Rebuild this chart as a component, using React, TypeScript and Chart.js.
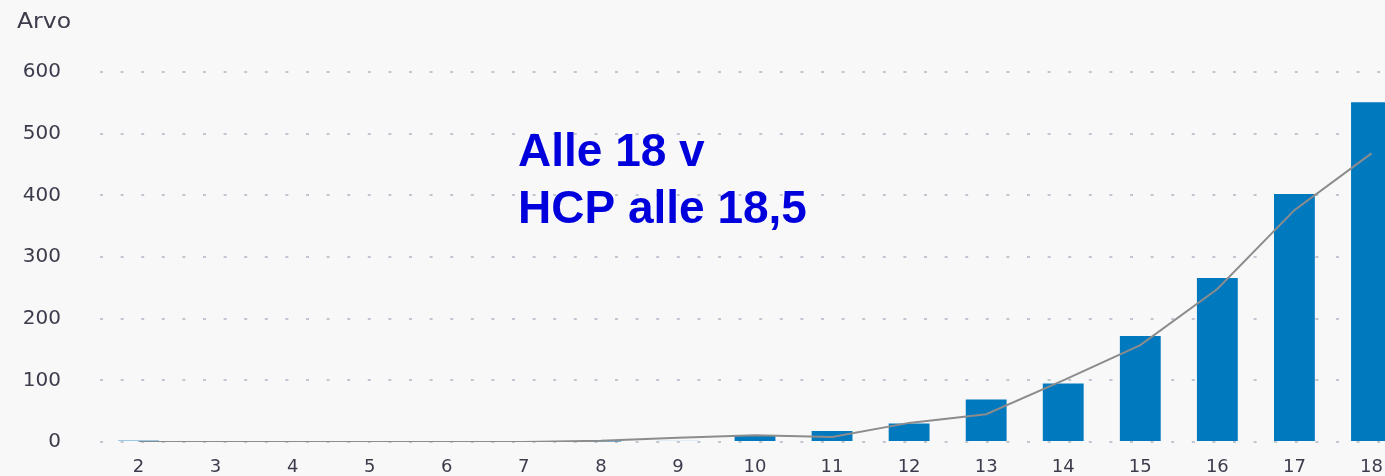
import React, { useEffect, useRef } from "react";
import { Chart, registerables } from "chart.js";

Chart.register(...registerables);

const categories = ["2", "3", "4", "5", "6", "7", "8", "9", "10", "11", "12", "13", "14", "15", "16", "17", "18"];
const barValues = [3, 0, 0, 0, 0, 0, 1, 3, 10, 18, 30, 69, 95, 172, 266, 402, 551];
const lineValues = [0, 0, 0, 0, 0, 0, 2, 7, 11, 8, 31, 45, 100, 157, 248, 376, 468];
const yTicks = [0, 100, 200, 300, 400, 500, 600];
const yTitle = "Arvo";
const noteLines = ["Alle 18 v", "HCP alle 18,5"];

const BAR = "#0079bf";
const barColors = categories.map((_, i) => (i === 0 ? "#7fb9e0" : i === 7 ? "#dbe9f4" : BAR));
const TXT = "#3c3c4c";

export default function App() {
  const ref = useRef<HTMLCanvasElement | null>(null);

  useEffect(() => {
    document.body.style.margin = "0";
    document.body.style.overflow = "hidden";
    const ctx = ref.current!.getContext("2d")!;
    const chart = new Chart(ctx, {
      type: "bar",
      data: {
        labels: categories,
        datasets: [
          {
            type: "line",
            data: lineValues,
            borderColor: "#8c8c8c",
            borderWidth: 2,
            pointRadius: 0,
            tension: 0,
            fill: false,
            order: 0,
          } as any,
          {
            type: "bar",
            data: barValues,
            backgroundColor: barColors,
            categoryPercentage: 1,
            barPercentage: 0.53,
            order: 1,
          },
        ],
      },
      options: {
        responsive: false,
        animation: false,
        devicePixelRatio: 1,
        layout: { padding: { top: 72, left: 0, right: 0, bottom: 0 } },
        plugins: { legend: { display: false }, tooltip: { enabled: false } },
        scales: {
          x: {
            grid: { display: false, drawTicks: false },
            border: { display: false },
            ticks: {
              color: TXT,
              font: { family: "DejaVu Sans", size: 18 },
              padding: 15,
              maxRotation: 0,
              autoSkip: false,
            },
            afterFit: (s: any) => {
              s.height = 34;
            },
          },
          y: {
            min: 0,
            max: 600,
            afterBuildTicks: (s: any) => {
              s.ticks = yTicks.map((v) => ({ value: v }));
            },
            grid: {
              color: "#c1c6d0",
              lineWidth: 2,
              drawTicks: true,
              tickLength: 39,
              tickColor: "rgba(0,0,0,0)",
            },
            border: { display: false, dash: [3, 17.6] },
            ticks: {
              color: TXT,
              font: { family: "DejaVu Sans", size: 20 },
              padding: 0,
            },
            afterFit: (s: any) => {
              s.width = 100;
            },
          },
        },
      },
      plugins: [
        {
          id: "extras",
          afterDraw(c: any) {
            const g = c.ctx;
            g.save();
            g.fillStyle = TXT;
            g.font = "21px 'DejaVu Sans'";
            g.textBaseline = "alphabetic";
            g.textAlign = "left";
            g.translate(17, 28);
            g.scale(1.12, 1);
            g.fillText(yTitle, 0, 0);
            g.restore();
            g.save();
            g.fillStyle = "#0000dd";
            g.font = "bold 46px 'Liberation Sans'";
            g.textBaseline = "alphabetic";
            g.textAlign = "left";
            g.fillText(noteLines[0], 518, 166);
            g.fillText(noteLines[1], 518, 223);
            g.restore();
          },
        },
      ],
    });
    return () => chart.destroy();
  }, []);

  return (
    <div style={{ position: "fixed", left: 0, top: 0, width: 1385, height: 476, overflow: "hidden", background: "#f8f8f8" }}>
      <canvas ref={ref} width={1410} height={476} style={{ display: "block" }} />
    </div>
  );
}
